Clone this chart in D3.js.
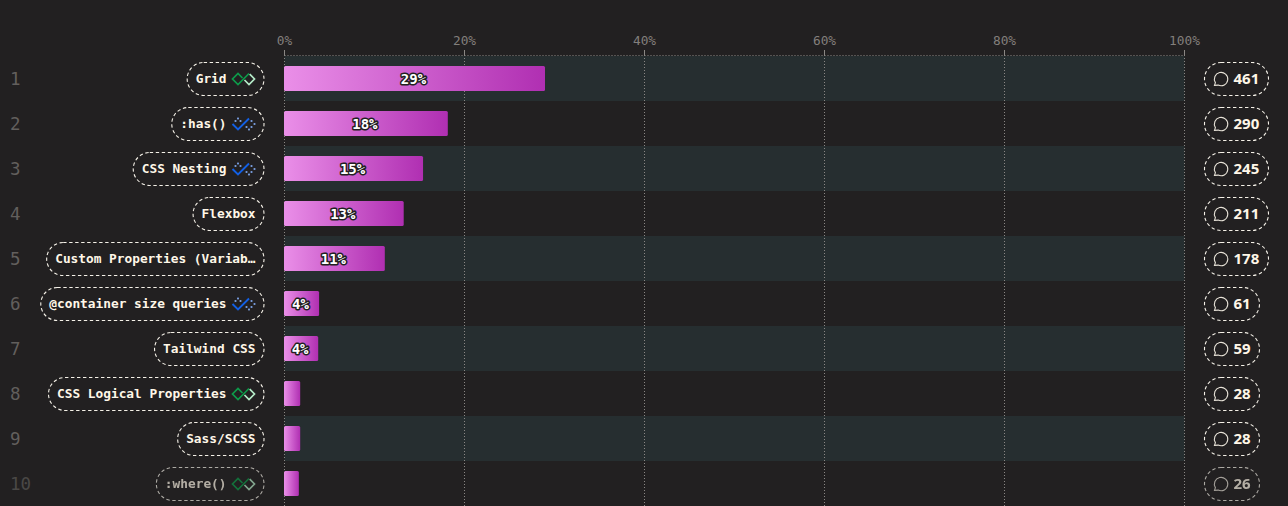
<!DOCTYPE html>
<html><head><meta charset="utf-8">
<script src="https://cdn.jsdelivr.net/npm/d3@7/dist/d3.min.js"></script>
<style>
html,body{margin:0;padding:0;background:#222021;overflow:hidden}
svg{display:block}
text{font-family:"DejaVu Sans Mono",monospace}
</style></head><body>
<svg id="c" width="1288" height="506"></svg>
<script>
const names=["Grid",":has()","CSS Nesting","Flexbox","Custom Properties (Variab…","@container size queries","Tailwind CSS","CSS Logical Properties","Sass/SCSS",":where()"];
const percents=[29,18.2,15.45,13.3,11.2,3.9,3.8,1.8,1.8,1.65];
const barLabels=["29%","18%","15%","13%","11%","4%","4%","","",""];
const counts=[461,290,245,211,178,61,59,28,28,26];
const badges=["green","blue","blue","","","blue","","green","","green"];
const ticks=[0,20,40,60,80,100];

const svg=d3.select("#c");
const x=d3.scaleLinear().domain([0,100]).range([284.5,1184.5]);
const y=d3.scaleBand().domain(d3.range(10)).range([56,506]);
const defs=svg.append("defs");
const grad=defs.append("linearGradient").attr("id","barGrad");
grad.append("stop").attr("offset","0").attr("stop-color","#ea8fe8");
grad.append("stop").attr("offset","1").attr("stop-color","#b02fb2");

// bands
svg.append("g").selectAll("rect").data(d3.range(0,10,2)).join("rect")
 .attr("x",x(0)).attr("width",x(100)-x(0)).attr("y",d=>y(d)).attr("height",y.bandwidth()).attr("fill","#262e30");

// grid + axis
const ax=svg.append("g").attr("class","axis");
ax.append("line").attr("x1",x(0)).attr("x2",x(100)).attr("y1",55.5).attr("y2",55.5)
 .attr("stroke","#8a8784").attr("stroke-dasharray","1 2");
const tg=ax.selectAll("g").data(ticks).join("g").attr("transform",d=>`translate(${x(d)},0)`);
tg.append("line").attr("y1",50).attr("y2",55).attr("stroke","#8a8784");
tg.append("line").attr("y1",55).attr("y2",506).attr("stroke","#8a8784").attr("stroke-dasharray","1 2");
tg.append("text").attr("y",44.5).attr("text-anchor","middle").attr("font-size",12.8).attr("fill","#827f7c").text(d=>d+"%");

// bars
const rows=svg.append("g").selectAll("g").data(d3.range(10)).join("g")
 .attr("transform",d=>`translate(0,${y(d)})`);
rows.append("rect").attr("x",x(0)-0.5).attr("y",10).attr("height",25).attr("rx",1.5)
 .attr("width",d=>x(percents[d])-x(0)).attr("fill","url(#barGrad)");
rows.append("text").attr("x",d=>x(0)-1.5+(x(percents[d])-x(0))/2).attr("y",27.5)
 .attr("text-anchor","middle").attr("font-size",14).attr("font-weight",700).attr("fill","#fff")
 .attr("stroke","#222021").attr("stroke-width",3).attr("paint-order","stroke").attr("stroke-linejoin","round")
 .text(d=>barLabels[d]);

// rank numbers
svg.append("g").selectAll("text").data(d3.range(10)).join("text")
 .attr("x",10).attr("y",d=>y(d)+29).attr("font-size",17.5).attr("fill",d=>d===9?"#4a4846":"#625f5d")
 .text(d=>d+1);

// content that fades in the last row
const item=rows.append("g").attr("opacity",d=>d===9?0.66:1);
const dashed={stroke:"#f5f1e8","stroke-width":1.1,"stroke-dasharray":"3.4 2.6",fill:"none"};
const pillR=264;
item.each(function(d){
  const g=d3.select(this);
  const hasBadge=!!badges[d];
  const textR=hasBadge?226.5:255.5;
  const t=g.append("text").attr("y",26.5).attr("font-size",12.8).attr("font-weight",700)
    .attr("fill","#fff7e8").attr("text-anchor","end").attr("x",textR).text(names[d]);
  const w=t.node().getComputedTextLength();
  const left=textR-w-8.5;
  const p=g.append("rect").attr("x",left).attr("y",6.5).attr("width",pillR-left).attr("height",33).attr("rx",16.5);
  Object.entries(dashed).forEach(([k,v])=>p.attr(k,v));
  if(hasBadge){
    const b=g.append("g").attr("transform","translate(243.5,23)");
    const dark=badges[d]==="green"?"#0d9b4a":"#1260e6";
    const light=badges[d]==="green"?"#b5ebc8":"#7fa6ea";
    if(badges[d]==="green"){
      b.append("path").attr("d","M-1,-1 L-5.5,-5.5 L-11,0 L-5.5,5.5 L5.5,-5.5").attr("fill","none").attr("stroke",dark).attr("stroke-width",1.7);
      b.append("path").attr("d","M6.2,-4.8 L11,0 L5.5,5.5 L1,1").attr("fill","none").attr("stroke",light).attr("stroke-width",1.7);
    } else {
      b.append("path").attr("d","M-11,0 L-5.5,5.5 L5.5,-5.5").attr("fill","none").attr("stroke",dark).attr("stroke-width",1.9);
      const dots=[[-8,-3],[-5.5,-5.5],[-3,-3],[3,3],[5.5,5.5],[8,3],[11,0],[8,-3]];
      b.selectAll("rect").data(dots).join("rect").attr("x",q=>q[0]-0.9).attr("y",q=>q[1]-0.9).attr("width",1.8).attr("height",1.8).attr("fill",light);
    }
  }
  // right pill
  const digits=String(counts[d]).length;
  const cp=g.append("rect").attr("x",1204.5).attr("y",6.5).attr("width",digits===3?64:55).attr("height",33).attr("rx",16.5);
  Object.entries(dashed).forEach(([k,v])=>cp.attr(k,v));
  g.append("path").attr("transform","translate(1221,23)")
   .attr("d","M-6.5,6.3 L-5.6,3.6 A6.7,6.7 0 1 1 -2.8,6.1 Z").attr("fill","none").attr("stroke","#e8e3d8").attr("stroke-width",1.1);
  g.append("text").attr("x",1233.5).attr("y",28).attr("font-size",15).attr("font-weight",700)
   .style("font-family","'Noto Sans',sans-serif").attr("fill","#fff7e8").text(counts[d]);
});
</script>
</body></html>
